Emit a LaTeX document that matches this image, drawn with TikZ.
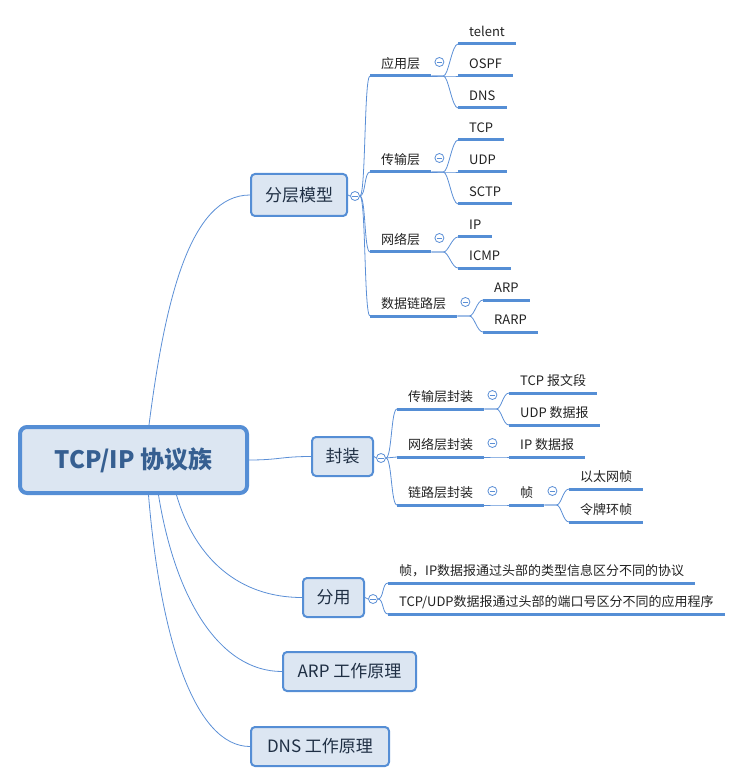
\documentclass[tikz,border=0pt]{standalone}
\usepackage{fontspec}
\setmainfont{Noto Sans CJK SC}
\usetikzlibrary{calc,backgrounds}
\definecolor{mmline}{HTML}{5B8FD6}
\definecolor{mmborder}{HTML}{558ED5}
\definecolor{mmfill}{HTML}{DCE6F2}
\definecolor{mmtext}{HTML}{222222}
\definecolor{roottext}{HTML}{365F91}
\definecolor{subtext}{HTML}{1F2F44}
\newcommand\mmbranch[2]{\draw[conn] (#1.south east) -- ++(12,0) .. controls +(5,0) and +(-6,0) .. (#2.south west);}
\newcommand\mmspine[2]{\draw[conn] (#1.east) .. controls +(6,0) and +(-6,0) .. (#2.south west);}
\begin{document}
\begin{tikzpicture}[x=1pt,y=-1pt,
  conn/.style={draw=mmline, line width=0.8pt},
  uline/.style={draw=mmborder, line width=3pt},
  lbl/.style={anchor=south west, inner xsep=11pt, inner ysep=4.5pt, text height=10pt, text depth=3pt,
    font=\fontsize{13}{15}\selectfont, text=mmtext,
    append after command={(\tikzlastnode.south west) edge[uline] (\tikzlastnode.south east)}},
  topic/.style={draw=mmborder, line width=2pt, fill=mmfill, rounded corners=4pt, text=subtext,
    font=\fontsize{17}{20}\selectfont, inner sep=0pt, minimum height=39pt},
  roottopic/.style={draw=mmborder, line width=4pt, fill=mmfill, rounded corners=7pt, text=roottext,
    font=\fontsize{24}{28}\selectfont\bfseries, minimum width=227pt, minimum height=66pt, inner sep=0pt},
  fold/.style={circle, draw=mmline, line width=0.8pt, fill=white, minimum size=9pt, inner sep=0pt,
    path picture={\draw[mmline, line width=0.7pt] ([xshift=-2.6pt]path picture bounding box.center) -- ([xshift=2.6pt]path picture bounding box.center);}}
]
\useasboundingbox (0,0) rectangle (747,783);

% main topics
\node[roottopic] (root) at (133.5,460) {TCP/IP 协议族};
\node[topic, minimum width=96pt, minimum height=42pt] (layers) at (299,195) {分层模型};
\node[topic, minimum width=61pt] (encap) at (342.5,456.5) {封装};
\node[topic, minimum width=61pt] (demux) at (333.5,597.5) {分用};
\node[topic, minimum width=133pt] (arp) at (349.5,671.5) {ARP 工作原理};
\node[topic, minimum width=138pt] (dns) at (320,746.5) {DNS 工作原理};

\node[fold] (fLayers) at (355,196) {};
\node[fold] (fEncap) at (381,458) {};
\node[fold] (fDemux) at (373,599) {};

% layered model
\node[lbl] (app) at (370,76) {应用层};
\node[lbl] (trans) at (370,172) {传输层};
\node[lbl] (net) at (370,252) {网络层};
\node[lbl] (link) at (370,316) {数据链路层};

\node[lbl] (telnet) at (458,44) {telent};
\node[lbl] (ospf) at (458,76) {OSPF};
\node[lbl] (dnsp) at (458,108) {DNS};
\node[lbl] (tcp) at (458,140) {TCP};
\node[lbl] (udp) at (458,172) {UDP};
\node[lbl] (sctp) at (458,204) {SCTP};
\node[lbl] (ip) at (458,237) {IP};
\node[lbl] (icmp) at (458,268) {ICMP};
\node[lbl] (arpp) at (483,300) {ARP};
\node[lbl] (rarp) at (483,332) {RARP};

% encapsulation
\node[lbl] (tenc) at (397,409) {传输层封装};
\node[lbl] (nenc) at (397,457) {网络层封装};
\node[lbl] (lenc) at (397,505) {链路层封装};
\node[lbl] (tcpseg) at (509,393) {TCP 报文段};
\node[lbl] (udpdg) at (509,425) {UDP 数据报};
\node[lbl] (ipdg) at (509,457) {IP 数据报};
\node[lbl] (frame) at (509,505) {帧};
\node[lbl] (eth) at (569,489) {以太网帧};
\node[lbl] (token) at (569,522) {令牌环帧};

% demultiplexing
\node[lbl] (d1) at (388,583) {帧，IP数据报通过头部的类型信息区分不同的协议};
\node[lbl] (d2) at (388,614) {TCP/UDP数据报通过头部的端口号区分不同的应用程序};

% fold markers of sub-branches
\foreach \n in {app,trans,net,link,tenc,nenc,lenc,frame}
  \node[fold] (f\n) at ($(\n.south east)+(8,-14)$) {};

\begin{scope}[on background layer]
  \draw[conn] ($(root.north)+(15.5,0)$) .. controls +(16,-125) and +(-60,0) .. (layers.west);
  \draw[conn] (root.east) .. controls +(30,0) and +(-30,0) .. (encap.west);
  \draw[conn] ($(root.south)+(43,0)$) .. controls +(19,65) and +(-62,0) .. (demux.west);
  \draw[conn] ($(root.south)+(25,0)$) .. controls +(17,105) and +(-62,0) .. (arp.west);
  \draw[conn] ($(root.south)+(15,0)$) .. controls +(12,145) and +(-55,0) .. (dns.west);

  \draw[conn] (layers.east) -- (fLayers.west);
  \draw[conn] (encap.east) -- (fEncap.west);
  \draw[conn] (demux.east) -- (fDemux.west);

  \foreach \c in {app,trans,net,link} { \mmspine{fLayers}{\c} }
  \foreach \c in {tenc,nenc,lenc} { \mmspine{fEncap}{\c} }
  \foreach \c in {d1,d2} { \mmspine{fDemux}{\c} }

  \foreach \c in {telnet,ospf,dnsp} { \mmbranch{app}{\c} }
  \foreach \c in {tcp,udp,sctp} { \mmbranch{trans}{\c} }
  \foreach \c in {ip,icmp} { \mmbranch{net}{\c} }
  \foreach \c in {arpp,rarp} { \mmbranch{link}{\c} }
  \foreach \c in {tcpseg,udpdg} { \mmbranch{tenc}{\c} }
  \mmbranch{nenc}{ipdg}
  \mmbranch{lenc}{frame}
  \foreach \c in {eth,token} { \mmbranch{frame}{\c} }
\end{scope}
\end{tikzpicture}
\end{document}
